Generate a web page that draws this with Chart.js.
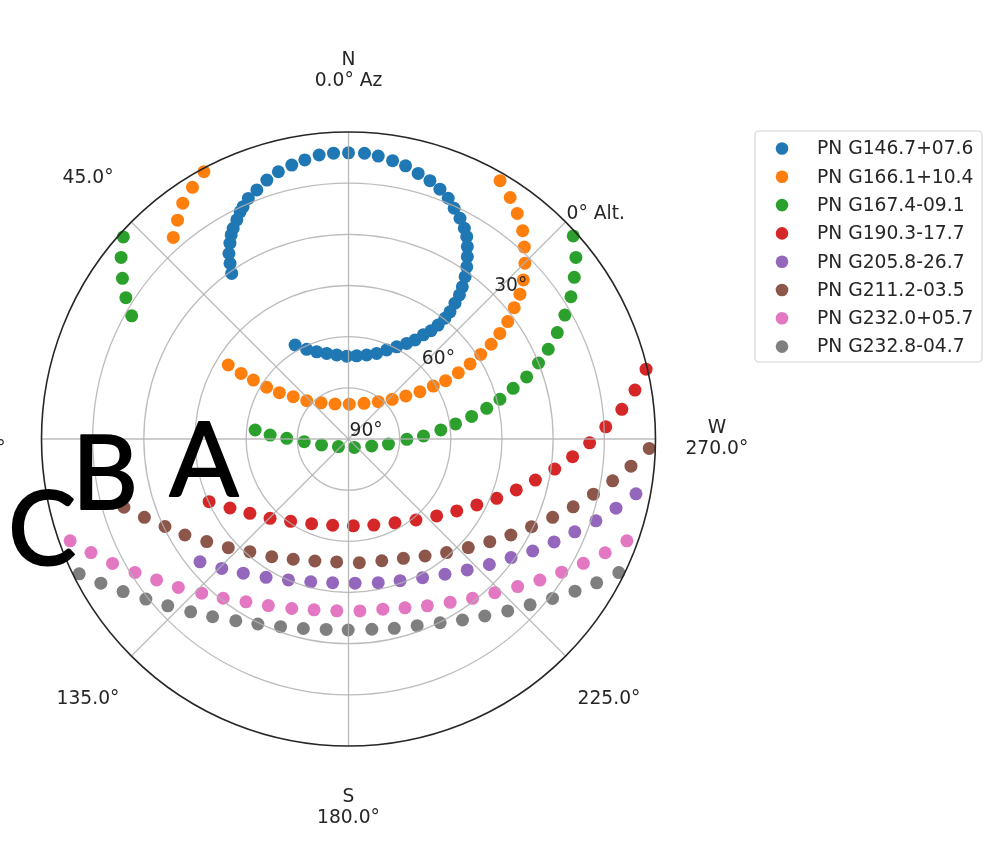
<!DOCTYPE html>
<html>
<head>
<meta charset="utf-8">
<script src="https://cdn.jsdelivr.net/npm/chart.js@4.4.1/dist/chart.umd.min.js"></script>
<style>
html,body{margin:0;padding:0;background:#ffffff;}
#wrap{position:relative;width:994px;height:846px;}
canvas{display:block;}
</style>
</head>
<body>
<div id="wrap"><canvas id="c" width="994" height="846"></canvas></div>
<script>
// ---------- data (azimuth in degrees, altitude in degrees) ----------
const pnNames = ['PN G146.7+07.6','PN G166.1+10.4','PN G167.4-09.1','PN G190.3-17.7',
                 'PN G205.8-26.7','PN G211.2-03.5','PN G232.0+05.7','PN G232.8-04.7'];
const pnColors = ['#1f77b4','#ff7f0e','#2ca02c','#d62728','#9467bd','#8c564b','#e377c2','#7f7f7f'];

const azG146 = [35.2,34.0,32.8,31.2,29.9,28.7,27.0,25.5,24.4,22.6,20.2,17.5,14.7,11.7,8.9,5.9,3.0,0.0,356.8,354.0,351.0,348.2,345.3,342.5,339.9,337.5,335.4,333.2,331.2,329.7,328.3,326.9,325.5,324.3,323.2,322.4,321.9,321.4,321.4,321.8,322.7,324.3,326.1,328.7,332.4,336.8,341.8,347.8,354.4,1.2,8.0,14.3,20.0,25.0,29.6];
const altG146 = [30.6,27.9,25.3,22.9,21.0,19.6,17.9,16.2,15.2,13.6,12.2,10.4,9.0,8.0,7.2,6.3,6.1,6.1,6.1,6.6,7.4,8.2,9.5,10.6,12.0,13.6,15.6,17.5,19.5,21.3,23.7,26.2,28.8,31.4,34.3,36.7,39.4,42.3,44.7,47.5,50.1,52.4,55.0,57.2,59.5,61.6,63.6,64.8,65.5,65.7,65.1,64.1,62.8,61.0,58.3];

const azG166 = [28.4,31.8,35.1,38.0,41.0,58.4,58.6,58.2,57.7,56.2,52.5,47.5,37.1,21.1,358.7,336.5,321.4,312.2,306.9,303.5,302.0,301.0,301.1,301.7,302.6,303.6,304.9,306.4,308.4,310.2,312.3,314.9,317.5,320.1,323.2,326.2,329.6];
const altG166 = [0.9,3.2,5.5,8.6,11.7,48.6,53.1,57.2,61.6,65.6,69.6,73.4,76.7,79.0,79.8,78.6,76.0,72.7,69.0,64.9,60.7,56.8,52.4,48.1,44.0,39.8,35.9,32.0,28.0,24.2,20.7,17.0,13.7,10.4,7.4,4.8,2.2];

const azG167 = [48.1,51.4,54.6,57.6,60.4,84.5,87.1,89.4,93.5,102.6,127.1,214.9,253.2,262.8,269.7,272.3,275.6,278.0,280.4,282.5,284.7,287.1,289.2,291.8,294.2,297.0,299.8,302.6,305.6,308.6,312.1];
const altG167 = [1.3,4.7,8.7,12.7,16.9,62.5,67.0,71.9,77.0,81.9,86.3,87.0,82.9,78.2,72.9,68.0,62.8,58.3,53.3,48.5,44.1,39.5,34.7,30.0,25.8,21.3,16.9,12.6,8.6,4.7,1.2];

const azG190 = [114.2,120.2,127.0,135.3,144.9,156.5,169.6,183.2,196.4,209.0,219.8,228.9,236.4,242.8,248.2,253.1,257.6,261.7,265.5,269.1,272.7,276.2,279.7,283.2];
const altG190 = [45.2,49.8,53.8,57.3,60.5,62.9,64.3,64.5,63.7,61.9,59.1,55.7,51.9,47.7,43.2,38.6,33.9,28.9,24.1,19.3,14.5,9.4,4.8,0.4];

const azG205 = [129.6,135.6,141.9,149.2,156.9,165.2,173.7,182.6,191.7,200.0,208.1,215.5,222.2,228.3,233.9,238.7,243.4,247.7,251.7,255.5,259.2];
const altG205 = [33.5,36.9,40.0,42.8,45.1,46.7,47.6,47.7,47.0,45.8,43.9,41.3,38.2,34.7,31.0,26.8,22.6,18.3,13.6,9.0,4.2];

const azG211 = [106.9,111.0,115.5,120.4,125.9,132.1,138.8,146.9,155.3,164.6,174.5,185.0,195.3,204.7,213.2,220.8,227.8,234.0,239.4,244.4,249.0,253.2,257.3,261.0,264.5,268.2];
const altG211 = [21.2,25.9,30.4,34.4,38.7,42.5,46.1,48.8,51.2,52.9,53.8,53.6,53.0,51.5,49.0,46.0,42.6,38.8,34.7,30.5,25.9,21.2,16.4,11.6,6.8,1.8];

const azG232a = [110.1,113.8,117.8,122.0,126.3,131.1,136.4,141.8,147.8,154.3,161.5,168.6,176.1,183.8,191.4,198.5,205.3,211.9,217.9,223.6,228.9,233.6,238.0,242.1,246.1,249.9];
const altG232a = [3.1,7.5,11.8,16.2,20.2,23.8,27.6,30.6,33.6,35.8,37.6,38.9,39.5,39.5,39.1,37.8,35.9,33.6,30.8,27.8,24.2,20.3,16.3,12.1,7.7,3.1];

const azG232b = [116.6,120.2,124.1,128.3,132.7,137.6,142.6,148.2,153.9,160.1,166.6,173.3,179.9,187.0,193.6,200.2,206.5,212.2,217.6,222.8,227.6,232.0,236.1,239.9,243.7];
const altG232b = [1.7,6.0,10.2,14.3,17.9,21.4,24.4,27.3,29.6,31.5,32.9,33.8,34.0,33.8,32.9,31.7,29.8,27.3,24.5,21.3,17.9,14.1,10.0,5.9,1.6];

// ---------- axis ticks ----------
const ringAlts = [75, 60, 45, 30, 15];          // grid circles (altitude)
const spokeAz = [0, 45, 90, 135, 180, 225, 270, 315];
const thetaTickAz = [0, 45, 90, 135, 180, 225, 270];
const thetaTickLabels = [['N','0.0\u00b0 Az'],['45.0\u00b0'],['E','90.0\u00b0'],['135.0\u00b0'],['S','180.0\u00b0'],['225.0\u00b0'],['W','270.0\u00b0']];
const altTickValues = [0, 30, 60, 90];
const altTickLabels = ['0\u00b0 Alt.', '30\u00b0', '60\u00b0', '90\u00b0'];
const altTickAz = 315;
const annotLetters = ['A', 'B', 'C'];

// ---------- build scatter data (zenith-distance projection) ----------
const azLists = [azG146, azG166, azG167, azG190, azG205, azG211, azG232a, azG232b];
const altLists = [altG146, altG166, altG167, altG190, altG205, altG211, altG232a, altG232b];
const D2R = Math.PI / 180;
function project(az, alt) {
  const z = 90 - alt;
  return { x: -z * Math.sin(az * D2R), y: z * Math.cos(az * D2R) };
}
const datasets = pnNames.map((name, i) => ({
  label: name,
  data: azLists[i].map((a, k) => project(a, altLists[i][k])),
  backgroundColor: pnColors[i],
  borderColor: pnColors[i],
  borderWidth: 0,
  pointRadius: 6.5,
  pointHoverRadius: 6.5,
  clip: false
}));

const FONT = '"DejaVu Sans", sans-serif';
const TXT = '#262626';

const polarPlugin = {
  id: 'polarGrid',
  afterDatasetsDraw(chart) {
    const { ctx } = chart;
    const xs = chart.scales.x, ys = chart.scales.y;
    const cx = xs.getPixelForValue(0), cy = ys.getPixelForValue(0);
    const rad = z => xs.getPixelForValue(z) - cx;
    const pt = (az, z) => [xs.getPixelForValue(-z * Math.sin(az * D2R)), ys.getPixelForValue(z * Math.cos(az * D2R))];
    ctx.save();
    // grid circles
    ctx.strokeStyle = 'rgba(176,176,176,0.85)';
    ctx.lineWidth = 1.3;
    ringAlts.forEach(a => { ctx.beginPath(); ctx.arc(cx, cy, rad(90 - a), 0, 2 * Math.PI); ctx.stroke(); });
    // spokes
    spokeAz.forEach(az => {
      const p = pt(az, 90);
      ctx.beginPath(); ctx.moveTo(cx, cy); ctx.lineTo(p[0], p[1]); ctx.stroke();
    });
    // outer spine
    ctx.strokeStyle = '#262626';
    ctx.lineWidth = 1.6;
    ctx.beginPath(); ctx.arc(cx, cy, rad(90), 0, 2 * Math.PI); ctx.stroke();

    // azimuth tick labels
    ctx.fillStyle = TXT;
    ctx.font = '18.7px ' + FONT;
    ctx.textAlign = 'center';
    ctx.textBaseline = 'middle';
    const lh = 21;
    thetaTickAz.forEach((az, i) => {
      const p = pt(az, 108);
      const lines = thetaTickLabels[i];
      const y0 = p[1] - (lines.length - 1) * lh / 2;
      lines.forEach((t, k) => ctx.fillText(t, p[0], y0 + k * lh));
    });
    // altitude tick labels
    ctx.textAlign = 'left';
    ctx.textBaseline = 'alphabetic';
    altTickValues.forEach((a, i) => {
      const p = pt(altTickAz, 90 - a);
      ctx.fillText(altTickLabels[i], p[0] + 1, p[1] - 3);
    });
    ctx.restore();
  },
  afterDraw(chart) {
    const { ctx } = chart;
    ctx.save();
    // legend
    const bx = 755, by = 131, bw = 227, bh = 231;
    ctx.fillStyle = 'rgba(255,255,255,0.9)';
    ctx.strokeStyle = '#d4d4d4';
    ctx.lineWidth = 1.2;
    ctx.beginPath();
    ctx.roundRect(bx, by, bw, bh, 4);
    ctx.fill(); ctx.stroke();
    ctx.font = '18.7px ' + FONT;
    ctx.textAlign = 'left';
    ctx.textBaseline = 'middle';
    pnNames.forEach((n, i) => {
      const yy = 148.5 + i * 28.3;
      ctx.fillStyle = pnColors[i];
      ctx.beginPath(); ctx.arc(782, yy, 6.3, 0, 2 * Math.PI); ctx.fill();
      ctx.fillStyle = TXT;
      ctx.fillText(n, 817, yy + 1);
    });
    // hand-written annotations
    ctx.fillStyle = '#000000';
    ctx.font = '400 102px Lato, "Open Sans", sans-serif';
    ctx.textAlign = 'center';
    ctx.textBaseline = 'alphabetic';
    ctx.lineJoin = 'round';
    ctx.strokeStyle = '#000000';
    ctx.lineWidth = 2;
    [[204, 496], [105, 509], [42, 565]].forEach((p, i) => {
      ctx.fillText(annotLetters[i], p[0], p[1]);
      ctx.strokeText(annotLetters[i], p[0], p[1]);
    });
    ctx.restore();
  }
};

new Chart(document.getElementById('c'), {
  type: 'scatter',
  data: { datasets },
  options: {
    responsive: false,
    animation: false,
    devicePixelRatio: 1,
    layout: { padding: { left: 41.5, right: 338.5, top: 132, bottom: 100 } },
    scales: {
      x: { type: 'linear', min: -90, max: 90, display: false },
      y: { type: 'linear', min: -90, max: 90, display: false }
    },
    plugins: { legend: { display: false }, tooltip: { enabled: false } }
  },
  plugins: [polarPlugin]
});
</script>
</body>
</html>
